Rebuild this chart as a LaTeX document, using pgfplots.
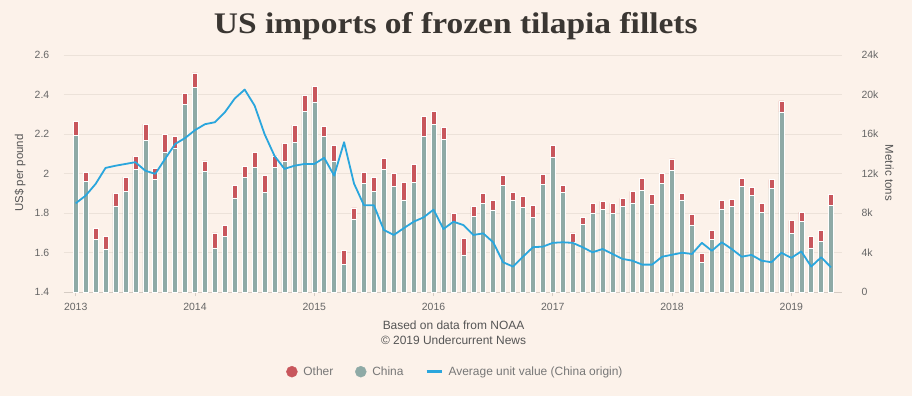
\documentclass[border=0pt]{standalone}
\usepackage{fontspec}
\setmainfont{Liberation Sans}
\newfontfamily\titlefont{Liberation Serif}
\usepackage{pgfplots}
\usepackage{pgfplotstable}
\pgfplotsset{compat=1.18}
\definecolor{bg}{HTML}{FCF2EA}
\definecolor{chinac}{HTML}{8EAAA6}
\definecolor{otherc}{HTML}{C8565C}
\definecolor{linec}{HTML}{2AA6DD}
\definecolor{gridc}{HTML}{ECE2D9}
\definecolor{axisc}{HTML}{D5CCC4}
\definecolor{tickc}{HTML}{666666}
\definecolor{legc}{HTML}{777777}
\definecolor{srcc}{HTML}{555555}
\definecolor{titlec}{HTML}{3A3632}

% month index (0 = Jan 2013), China (k t), Other (k t), unit value (US$/lb)
\pgfplotstableread{
m china other price
0 15.90 1.40 1.850
1 11.25 0.85 1.889
2 5.37 1.08 1.948
3 4.39 1.25 2.029
4 8.75 1.25 2.040
5 10.20 1.46 2.049
6 12.40 1.35 2.058
7 15.37 1.63 2.015
8 11.39 1.18 1.999
9 14.20 1.80 2.075
10 14.60 1.20 2.150
11 19.00 1.10 2.180
12 20.70 1.50 2.220
13 12.20 1.10 2.250
14 4.50 1.50 2.260
15 5.64 1.12 2.310
16 9.56 1.24 2.380
17 11.66 1.04 2.425
18 12.67 1.48 2.344
19 10.10 1.70 2.200
20 12.67 1.13 2.090
21 13.28 1.79 2.024
22 15.20 1.70 2.040
23 18.30 1.60 2.049
24 19.26 1.54 2.049
25 15.80 1.00 2.080
26 13.28 1.58 1.990
27 2.80 1.42 2.159
28 7.43 1.12 1.950
29 11.00 1.10 1.840
30 10.24 1.42 1.840
31 12.40 1.15 1.715
32 10.70 1.36 1.690
33 9.36 1.74 1.724
34 11.15 1.79 1.757
35 15.80 2.00 1.779
36 17.00 1.30 1.818
37 15.44 1.21 1.720
38 7.09 0.88 1.757
39 3.78 1.66 1.740
40 7.70 0.98 1.690
41 9.02 0.98 1.698
42 8.34 0.95 1.653
43 10.80 1.02 1.552
44 9.36 0.74 1.530
45 8.60 1.13 1.580
46 7.60 1.20 1.628
47 10.90 1.03 1.631
48 13.70 1.16 1.650
49 10.10 0.70 1.653
50 5.10 0.90 1.650
51 6.90 0.70 1.628
52 8.04 0.96 1.602
53 8.40 0.80 1.619
54 8.00 1.00 1.594
55 8.70 0.80 1.569
56 9.05 1.15 1.560
57 10.30 1.20 1.540
58 8.95 0.95 1.540
59 11.05 1.01 1.580
60 12.33 1.17 1.590
61 9.36 0.67 1.600
62 6.82 1.05 1.594
63 3.04 0.91 1.650
64 5.37 0.88 1.610
65 8.45 0.84 1.653
66 8.68 0.75 1.619
67 10.70 0.85 1.580
68 9.80 0.84 1.589
69 8.10 0.90 1.560
70 10.54 0.86 1.552
71 18.24 1.12 1.600
72 5.98 1.28 1.574
73 7.16 0.94 1.607
74 4.49 1.15 1.530
75 5.13 1.12 1.577
76 8.80 1.10 1.526
}\datatable

\begin{document}
\begin{tikzpicture}
\path[use as bounding box, fill=bg] (-63.8bp,-103.7bp) rectangle (848.2bp,292.3bp);
\begin{axis}[
  at={(0,0)}, anchor=south west, scale only axis,
  width=778.2bp, height=237.3bp,
  xmin=-1.2, xmax=77.1, ymin=0, ymax=24,
  ybar stacked, bar width=5bp,
  axis y line*=right, axis x line*=bottom,
  y axis line style={draw=none},
  x axis line style={-, draw=axisc, line width=0.6bp},
  ytick={0,4,8,12,16,20,24},
  yticklabels={0,4k,8k,12k,16k,20k,24k},
  ymajorgrids, grid style={draw=gridc, line width=0.6bp},
  xtick={0,12,24,36,48,60,72},
  xticklabels={2013,2014,2015,2016,2017,2018,2019},
  tick align=outside,
  ytick style={draw=none},
  xtick style={draw=axisc, line width=0.6bp},
  major tick length=4bp,
  tick label style={font=\fontsize{10.5}{12}\selectfont, text=tickc},
  yticklabel style={xshift=12bp},
  xticklabel style={yshift=-3.5bp},
]
\addplot[fill=chinac, draw=white, line width=0.5bp] table[x=m,y=china]{\datatable};
\addplot[fill=otherc, draw=white, line width=0.5bp] table[x=m,y=other]{\datatable};
\end{axis}
\begin{axis}[
  at={(0,0)}, anchor=south west, scale only axis,
  width=778.2bp, height=237.3bp,
  xmin=-1.2, xmax=77.1, ymin=1.4, ymax=2.6,
  axis x line=none, axis y line*=left,
  y axis line style={draw=none},
  ytick={1.4,1.6,1.8,2,2.2,2.4,2.6},
  yticklabels={1.4,1.6,1.8,2,2.2,2.4,2.6},
  ytick style={draw=none},
  tick label style={font=\fontsize{10.5}{12}\selectfont, text=tickc},
  yticklabel style={xshift=-11bp},
  clip=false,
  legend style={at={(0.2858,-0.3346)}, anchor=west, draw=none, fill=none,
    inner sep=0pt, outer sep=0pt, legend columns=-1,
    font=\fontsize{12}{14}\selectfont, text=legc,
    /tikz/every odd column/.append style={column sep=3.8bp},
    /tikz/every even column/.append style={column sep=19.8bp}},
]
\addlegendimage{legend image code/.code={\fill[otherc] (5.5bp,0) circle (5.5bp);}}
\addlegendentry{Other}
\addlegendimage{legend image code/.code={\fill[chinac] (5.5bp,0) circle (5.5bp);}}
\addlegendentry{China}
\addplot[draw=linec, line width=1.8bp, line join=round, mark=none,
  legend image code/.code={\draw[linec, line width=2.5bp] (0,0) -- (15bp,0);}]
  table[x=m,y=price]{\datatable};
\addlegendentry{Average unit value (China origin)}
\node[anchor=base, font=\titlefont\bfseries\fontsize{30}{34}\selectfont, text=titlec]
  at (axis description cs:0.5037,1.0927) {\scalebox{1.12}[1]{US imports of frozen tilapia fillets}};
\node[rotate=90, font=\fontsize{11.5}{13}\selectfont, text=srcc]
  at (axis description cs:-0.0563,0.5027) {US\$ per pound};
\node[rotate=-90, font=\fontsize{11.5}{13}\selectfont, text=srcc]
  at (axis description cs:1.061,0.5027) {Metric tons};
\node[align=center, font=\fontsize{12}{15}\selectfont, text=srcc]
  at (axis description cs:0.5008,-0.1694) {Based on data from NOAA\\\textcopyright{} 2019 Undercurrent News};
\end{axis}
\end{tikzpicture}
\end{document}
